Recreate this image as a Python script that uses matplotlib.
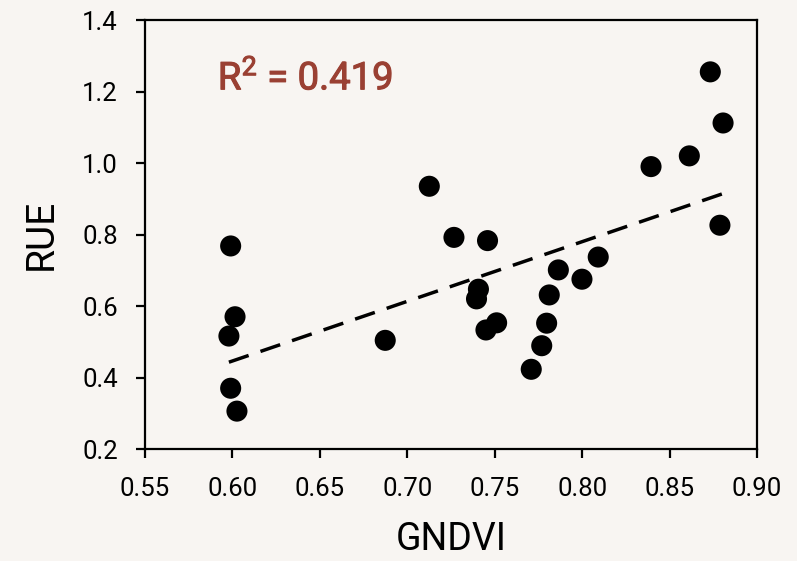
import numpy as np
import matplotlib
matplotlib.use("Agg")
import matplotlib.pyplot as plt
from matplotlib import font_manager
import matplotlib.patheffects as pe

# ---- data ----
gndvi = [0.599, 0.6015, 0.598, 0.599, 0.6026, 0.6874, 0.7126, 0.7267, 0.7459,
         0.7407, 0.7396, 0.7511, 0.7450, 0.7864, 0.7999, 0.8092, 0.7812,
         0.7797, 0.7769, 0.7709, 0.8788, 0.8733, 0.8806, 0.8613, 0.8394]
rue = [0.768, 0.570, 0.516, 0.370, 0.306, 0.504, 0.935, 0.792, 0.783,
       0.647, 0.620, 0.553, 0.533, 0.701, 0.675, 0.737, 0.631,
       0.552, 0.489, 0.423, 0.826, 1.255, 1.112, 1.020, 0.990]
x_ticks = [0.55, 0.60, 0.65, 0.70, 0.75, 0.80, 0.85, 0.90]
y_ticks = [0.2, 0.4, 0.6, 0.8, 1.0, 1.2, 1.4]
r2_text = r"R$^{2}$ = 0.419"

available = {f.name for f in font_manager.fontManager.ttflist}
font = next(f for f in ["Roboto", "DejaVu Sans"] if f in available)
plt.rcParams['font.family'] = [font, 'DejaVu Sans']
plt.rcParams['mathtext.fontset'] = 'custom'
plt.rcParams['mathtext.rm'] = font
plt.rcParams['mathtext.it'] = font
plt.rcParams['mathtext.bf'] = font
plt.rcParams['mathtext.default'] = 'rm'

bg = "#f8f5f2"
fig = plt.figure(figsize=(7.97, 5.61), dpi=100, facecolor=bg)
ax = fig.add_axes([0.1819, 0.1996, 0.7679, 0.7647], facecolor=bg)

x = np.array(gndvi)
y = np.array(rue)
slope, intercept = np.polyfit(x, y, 1)
xl = np.array([x.min(), x.max()])
ax.plot(xl, slope * xl + intercept, color="black", lw=2.5, linestyle=(0, (6, 3.6)), zorder=2)
ax.scatter(x, y, s=230, color="black", edgecolors="none", zorder=3)

ax.set_xlim(0.55, 0.90)
ax.set_ylim(0.2, 1.4)
ax.set_xticks(x_ticks)
ax.set_xticklabels([f"{v:.2f}" for v in x_ticks])
ax.set_yticks(y_ticks)
ax.set_yticklabels([f"{v:.1f}" for v in y_ticks])
ax.tick_params(axis="both", direction="out", length=6.5, width=1.6, labelsize=18.5, colors="black")
ax.tick_params(axis="x", pad=14)
ax.tick_params(axis="y", pad=13)
for s in ax.spines.values():
    s.set_linewidth(1.6)
    s.set_color("black")

ax.set_xlabel("GNDVI", fontsize=27, labelpad=14)
ax.set_ylabel("RUE", fontsize=28, labelpad=16)

r2_color = "#9a4033"
ax.text(0.119, 0.838, r2_text, transform=ax.transAxes, fontsize=27.5, color=r2_color,
        va="baseline", ha="left",
        path_effects=[pe.withStroke(linewidth=0.8, foreground=r2_color)])

fig.savefig("out.png", dpi=100, facecolor=bg)
